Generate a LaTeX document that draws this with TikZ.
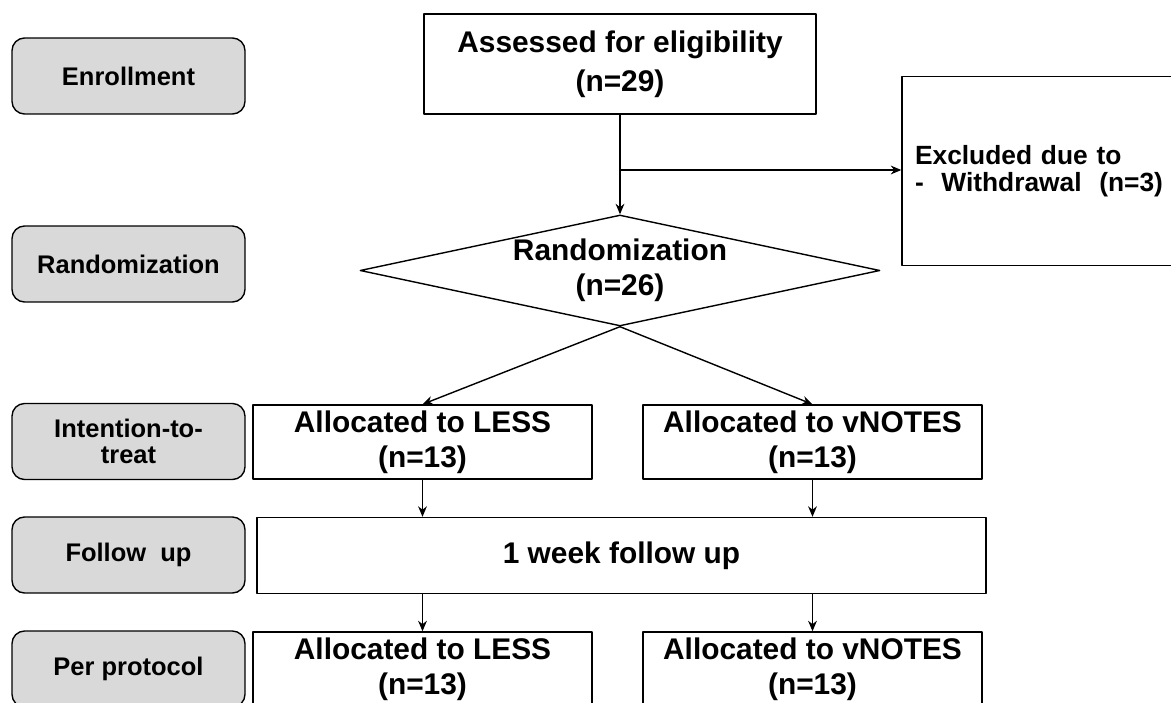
\documentclass[tikz,border=0pt]{standalone}
\usepackage{fontspec}
\setmainfont{Liberation Sans}
\usetikzlibrary{shapes.geometric, arrows.meta}
\definecolor{stagegray}{RGB}{217,217,217}
\begin{document}
\begin{tikzpicture}[x=0.02cm, y=-0.02cm, line width=0.8pt, line join=round, >={Stealth[length=6pt,width=5pt]}, font=\bfseries\fontsize{17}{20}\selectfont]
			\tikzset{stage/.style={draw, rounded corners=0.25cm, fill=stagegray, minimum width=4.66cm, minimum height=1.52cm, align=center, inner sep=0pt, font=\bfseries\fontsize{14.5}{14.5}\selectfont}}
			\tikzset{box/.style={draw, fill=white, minimum width=6.78cm, minimum height=1.48cm, align=center, inner sep=0pt}}
			\useasboundingbox (0,0) rectangle (1171,703);
			% stages on the left
			\foreach \y/\name/\txt in {76/enr/Enrollment, 264/ran/Randomization, 441.5/itt/{Intention-to-\\treat}, 555/fol/Follow~~up, 669/pp/Per protocol}
			\node[stage] (\name) at (128.5,\y) {\txt};
			% flow
			\node[box, minimum width=7.84cm, minimum height=2cm, font=\bfseries\fontsize{17}{22}\selectfont] (assess) at (620,64) {Assessed for eligibility\\(n=29)};
			\node[draw, minimum width=5.76cm, minimum height=3.78cm, text width=5.24cm, inner xsep=0.26cm, align=left, font=\bfseries\fontsize{15}{15.5}\selectfont] (excl) at (1046,171) {Excluded due to\\-\ \ Withdrawal\ \ (n=3)};
			\node[draw, shape=diamond, minimum width=10.4cm, minimum height=2.22cm, inner sep=0pt] (rand) at (620,270.5) {};
			\node[align=center] (randtxt) at (rand.center) {Randomization\\(n=26)};
			\node[box] (ittless) at (422.5,442) {Allocated to LESS\\(n=13)};
			\node[box] (ittvn) at (812.5,442) {Allocated to vNOTES\\(n=13)};
			\node[box, minimum width=14.58cm, minimum height=1.52cm] (follow) at (621.5,555.5) {1 week follow up};
			\node[box] (ppless) at (422.5,669) {Allocated to LESS\\(n=13)};
			\node[box] (ppvn) at (812.5,669) {Allocated to vNOTES\\(n=13)};
			\coordinate (split) at (assess.south |- 0,170);
			\draw[->] (assess.south) -- (rand.north);
			\draw[->] (split) -- (split -| excl.west);
			\draw[->] (rand.south) -- (ittless.north);
			\draw[->] (rand.south) -- (ittvn.north);
			\draw[->] (ittless.south) -- (ittless.south |- follow.north);
			\draw[->] (ittvn.south) -- (ittvn.south |- follow.north);
			\draw[->] (ittless.south |- follow.south) -- (ppless.north);
			\draw[->] (ittvn.south |- follow.south) -- (ppvn.north);
		\end{tikzpicture}
\end{document}
